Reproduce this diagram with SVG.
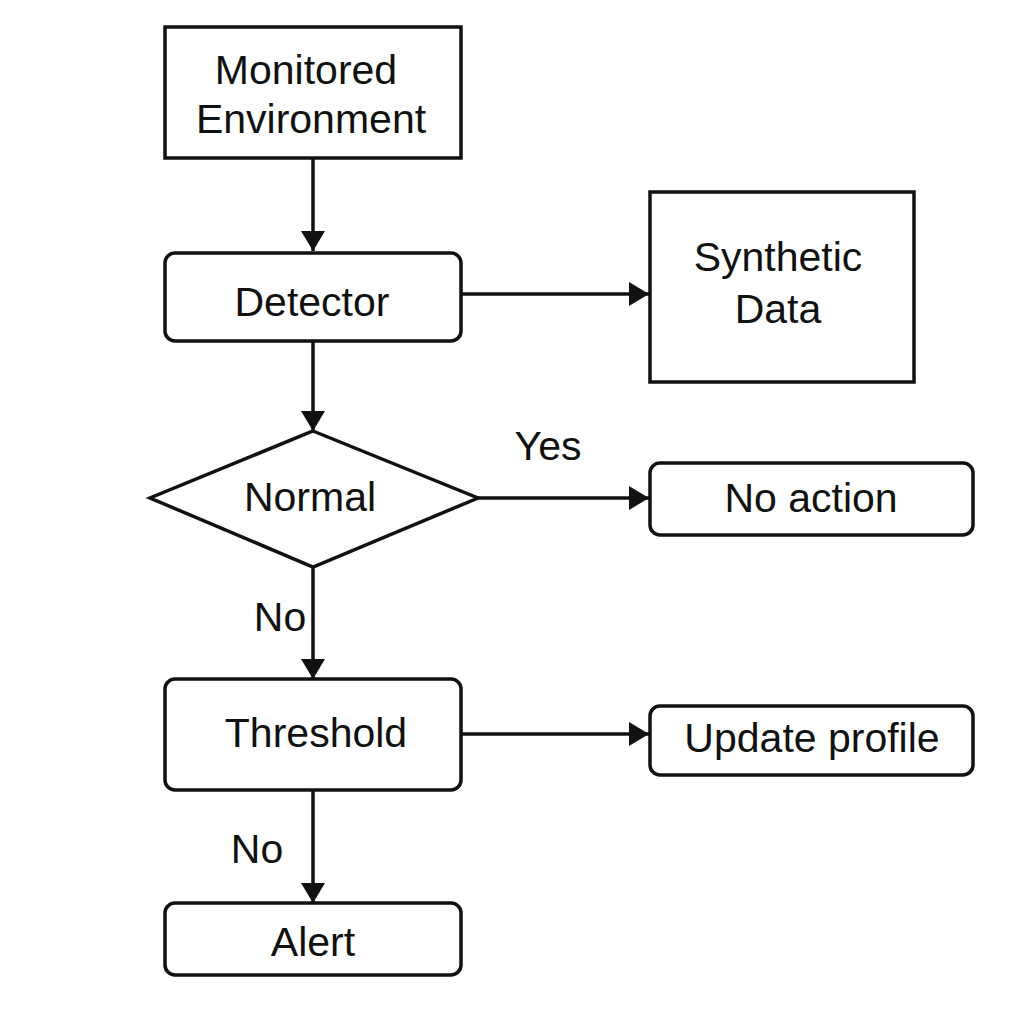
<svg xmlns="http://www.w3.org/2000/svg" width="1024" height="1024" viewBox="0 0 1024 1024">
<style>
.box{fill:#fff;stroke:#111;stroke-width:3.5}
.t{font-family:"Liberation Sans",Arial,sans-serif;font-size:41px;fill:#111;text-anchor:middle}
.c{stroke:#111;stroke-width:3.5;fill:none;marker-end:url(#ah)}
</style>
<defs>
<marker id="ah" viewBox="0 0 20 24" refX="20" refY="12" markerWidth="20" markerHeight="24" markerUnits="userSpaceOnUse" orient="auto">
<path d="M0,0 L20,12 L0,24 z" fill="#111"/>
</marker>
</defs>
<rect width="1024" height="1024" fill="#fff"/>
<g id="connectors">
<line class="c" x1="313" y1="158" x2="313" y2="251"/>
<line class="c" x1="461" y1="294" x2="649" y2="294"/>
<line class="c" x1="313" y1="341" x2="313" y2="431"/>
<line class="c" x1="478" y1="498" x2="649" y2="498"/>
<line class="c" x1="313" y1="567" x2="313" y2="679"/>
<line class="c" x1="461" y1="734" x2="649" y2="734"/>
<line class="c" x1="313" y1="790" x2="313" y2="903"/>
<text class="t" x="548" y="460">Yes</text>
<text class="t" x="280" y="631">No</text>
<text class="t" x="257" y="863">No</text>
</g>
<g id="monitored">
<rect class="box" x="165" y="27" width="296" height="131"/>
<text class="t" x="306" y="84">Monitored</text>
<text class="t" x="311" y="133">Environment</text>
</g>
<g id="detector">
<rect class="box" x="165" y="253" width="296" height="88" rx="10"/>
<text class="t" x="312" y="316">Detector</text>
</g>
<g id="synthetic">
<rect class="box" x="650" y="192" width="264" height="190"/>
<text class="t" x="778" y="271">Synthetic</text>
<text class="t" x="778" y="323">Data</text>
</g>
<g id="normal">
<polygon class="box" points="313,431 478,498 313,567 150,498"/>
<text class="t" x="310" y="511">Normal</text>
</g>
<g id="noaction">
<rect class="box" x="650" y="463" width="323" height="72" rx="10"/>
<text class="t" x="811" y="512">No action</text>
</g>
<g id="threshold">
<rect class="box" x="165" y="679" width="296" height="111" rx="10"/>
<text class="t" x="316" y="747">Threshold</text>
</g>
<g id="update">
<rect class="box" x="650" y="706" width="323" height="69" rx="10"/>
<text class="t" x="812" y="752">Update profile</text>
</g>
<g id="alert">
<rect class="box" x="165" y="903" width="296" height="72" rx="10"/>
<text class="t" x="313" y="956">Alert</text>
</g>
</svg>
